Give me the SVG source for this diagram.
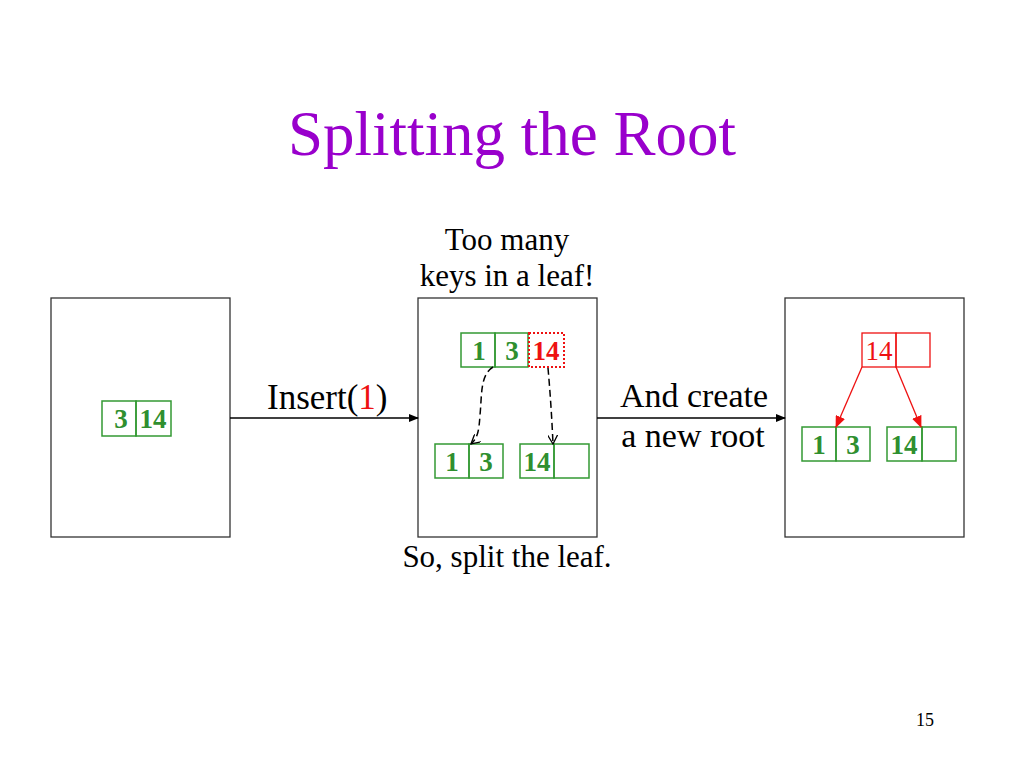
<svg xmlns="http://www.w3.org/2000/svg" width="1024" height="768" viewBox="0 0 1024 768">
<style>
text{font-family:"Liberation Serif","Times New Roman",serif}
.frame{fill:#fff;stroke:#333;stroke-width:1.3}
.g{fill:none;stroke:#339933;stroke-width:1.5}
.r{fill:none;stroke:#ee1111;stroke-width:1.3}
.gk{fill:#2f8f2f;font-weight:bold;font-size:27px;text-anchor:middle}
.lbl{font-size:31px;fill:#000;text-anchor:middle}
</style>
<defs>
<marker id="ab" markerWidth="10" markerHeight="8" refX="9" refY="4" orient="auto" markerUnits="userSpaceOnUse"><path d="M0,0L10,4L0,8z" fill="#000"/></marker>
<marker id="ar" markerWidth="12" markerHeight="10" refX="11" refY="5" orient="auto" markerUnits="userSpaceOnUse"><path d="M0,0L12,5L0,10z" fill="#ee1111"/></marker>
<marker id="ao" markerWidth="10" markerHeight="10" refX="9" refY="5" orient="auto" markerUnits="userSpaceOnUse"><path d="M0,0L9,5L0,10" fill="none" stroke="#000" stroke-width="1.3"/></marker>
</defs>
<rect width="1024" height="768" fill="#fff"/>
<text x="512" y="155" font-size="63" fill="#9900cc" text-anchor="middle">Splitting the Root</text>

<g id="before">
<rect class="frame" x="51" y="298" width="179" height="239"/>
<rect class="g" x="102" y="401" width="34" height="35"/>
<rect class="g" x="136" y="401" width="35" height="35"/>
<text class="gk" x="121" y="428">3</text>
<text class="gk" x="153" y="428">14</text>
</g>

<g id="middle">
<rect class="frame" x="418" y="298" width="179" height="239"/>
<rect class="g" x="461" y="333" width="34" height="34"/>
<rect class="g" x="495" y="333" width="33" height="34"/>
<rect x="529" y="333" width="35" height="34" fill="none" stroke="#ee1111" stroke-width="2" stroke-dasharray="2,2"/>
<text class="gk" x="479" y="360">1</text>
<text class="gk" x="512" y="360">3</text>
<text class="gk" x="546" y="360" style="fill:#ee1111">14</text>
<rect class="g" x="435" y="444" width="34" height="34"/>
<rect class="g" x="469" y="444" width="34" height="34"/>
<text class="gk" x="452" y="471">1</text>
<text class="gk" x="486" y="471">3</text>
<rect class="g" x="520" y="444" width="34" height="34"/>
<rect class="g" x="554" y="444" width="35" height="34"/>
<text class="gk" x="537" y="471">14</text>
</g>

<g id="after">
<rect class="frame" x="785" y="298" width="179" height="239"/>
<rect class="r" x="862" y="333" width="34" height="34"/>
<rect class="r" x="896" y="333" width="34" height="34"/>
<text x="879" y="360" font-size="27" fill="#ee1111" text-anchor="middle">14</text>
<rect class="g" x="802" y="427" width="34" height="34"/>
<rect class="g" x="836" y="427" width="34" height="34"/>
<text class="gk" x="819" y="454">1</text>
<text class="gk" x="853" y="454">3</text>
<rect class="g" x="887" y="427" width="35" height="34"/>
<rect class="g" x="922" y="427" width="34" height="34"/>
<text class="gk" x="904" y="454">14</text>
</g>

<g id="connectors">
<line x1="230" y1="418" x2="418" y2="418" stroke="#000" stroke-width="1.3" marker-end="url(#ab)"/>
<line x1="597" y1="418" x2="785" y2="418" stroke="#000" stroke-width="1.3" marker-end="url(#ab)"/>
<path d="M493,367 C480,375 482,395 480,415 C479,430 478,438 471,444" fill="none" stroke="#000" stroke-width="1.5" stroke-dasharray="7,4" marker-end="url(#ao)"/>
<path d="M548,368 C550,390 552,420 553,444" fill="none" stroke="#000" stroke-width="1.5" stroke-dasharray="7,4" marker-end="url(#ao)"/>
<line x1="862" y1="367" x2="836" y2="427" stroke="#ee1111" stroke-width="1.3" marker-end="url(#ar)"/>
<line x1="896" y1="367" x2="921" y2="427" stroke="#ee1111" stroke-width="1.3" marker-end="url(#ar)"/>
</g>

<g id="labels">
<text class="lbl" x="507" y="250">Too many</text>
<text class="lbl" x="507" y="286">keys in a leaf!</text>
<text x="267" y="409" font-size="35">Insert(<tspan fill="#ee1111">1</tspan>)</text>
<text class="lbl" x="694" y="407" font-size="34" style="font-size:34px">And create</text>
<text class="lbl" x="693" y="447" style="font-size:34px">a new root</text>
<text class="lbl" x="507" y="567">So, split the leaf.</text>
<text x="925" y="726" font-size="18" text-anchor="middle">15</text>
</g>
</svg>
